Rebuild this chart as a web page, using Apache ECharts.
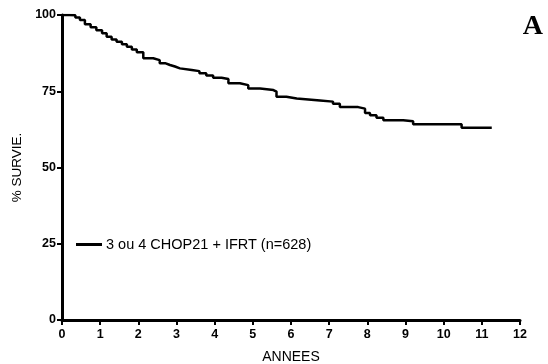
<!DOCTYPE html>
<html><head><meta charset="utf-8">
<script src="https://cdn.jsdelivr.net/npm/echarts@6/dist/echarts.min.js"></script>
<style>html,body{margin:0;padding:0;background:#fff}#c{width:548px;height:364px}</style>
</head><body><div id="c"></div>
<script>
const seriesName = '3 ou 4 CHOP21 + IFRT (n=628)';
const years = [0,0.2,0.35,0.47,0.6,0.75,0.9,1.05,1.17,1.3,1.43,1.57,1.7,1.83,1.96,2.13,2.39,2.56,2.7,2.83,2.96,3.09,3.4,3.6,3.78,3.96,4.18,4.36,4.66,4.88,5.19,5.54,5.62,5.88,6.15,6.76,7.1,7.28,7.76,7.94,8.07,8.24,8.42,8.94,9.2,10.47,11.26];
const survival = [100,99.9,99.2,98.4,97,96,95,94,92.9,92,91.2,90.4,89.6,88.7,87.8,85.8,85.2,84.2,83.6,83.1,82.5,82,81.6,80.9,80.2,79.4,79,77.6,77,75.9,75.4,74.9,73.2,72.6,72,71.6,70.9,69.8,69.3,67.9,67.1,66.3,65.5,65.2,64.2,63,63];
const xTicks = [0,1,2,3,4,5,6,7,8,9,10,11,12];
const yTicks = [0,25,50,75,100];

const chart = echarts.init(document.getElementById('c'), null, {renderer:'canvas'});
chart.setOption({
  animation:false,
  backgroundColor:'#fff',
  grid:{left:62,right:28,top:15,bottom:44,containLabel:false,outerBoundsMode:'none'},
  title:{text:'A',right:0,top:8,textStyle:{fontFamily:'Liberation Serif',fontWeight:'bold',fontSize:28,color:'#000'}},
  legend:{left:71,top:232,itemWidth:26,itemHeight:3,itemGap:4,icon:'rect',
    textStyle:{fontFamily:'Liberation Sans',fontSize:14.5,color:'#000',padding:[0,0,0,-1]},
    data:[seriesName]},
  xAxis:{type:'value',min:0,max:12,interval:1,
    name:'ANNEES',nameLocation:'middle',nameGap:30,
    nameTextStyle:{fontFamily:'Liberation Sans',fontSize:14,color:'#000'},
    axisLine:{onZero:false,lineStyle:{color:'#000',width:3}},
    axisTick:{length:5,lineStyle:{color:'#000',width:2}},
    axisLabel:{margin:8,fontFamily:'Liberation Sans',fontWeight:'bold',fontSize:12.5,color:'#000',
      formatter:v=>xTicks.includes(v)?String(v):''},
    splitLine:{show:false}},
  yAxis:{type:'value',min:0,max:100,interval:25,
    name:'% SURVIE.',nameLocation:'middle',nameGap:37,
    nameTextStyle:{fontFamily:'Liberation Sans',fontSize:13.5,color:'#000'},
    axisLine:{show:true,onZero:false,lineStyle:{color:'#000',width:3}},
    axisTick:{show:true,length:5,lineStyle:{color:'#000',width:2}},
    axisLabel:{margin:6,fontFamily:'Liberation Sans',fontWeight:'bold',fontSize:12.5,color:'#000',
      formatter:v=>yTicks.includes(v)?String(v):''},
    splitLine:{show:false}},
  series:[{name:seriesName,type:'line',step:'end',symbol:'none',
    lineStyle:{color:'#000',width:2.5},itemStyle:{color:'#000'},
    data:years.map((t,i)=>[t,survival[i]])}]
});
</script></body></html>
